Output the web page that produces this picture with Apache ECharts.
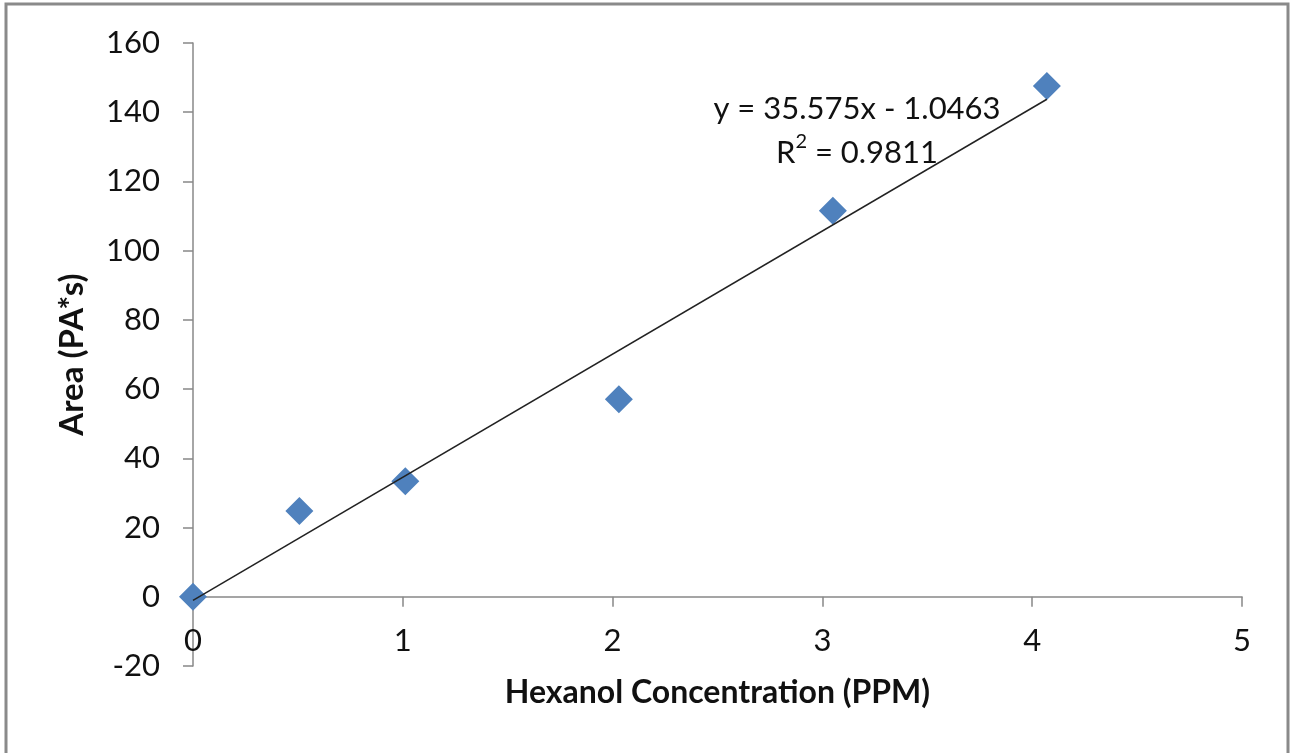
<!DOCTYPE html>
<html>
<head>
<meta charset="utf-8">
<script src="https://cdn.jsdelivr.net/npm/echarts@6/dist/echarts.min.js"></script>
<style>
  html, body { margin: 0; padding: 0; background: #fff; }
  #chart { width: 1294px; height: 753px; }
</style>
</head>
<body>
<div id="chart"></div>
<script>
// hexanol calibration points
var concentration = [0, 0.507, 1.012, 2.03, 3.05, 4.07];
var area = [0, 24.8, 33.4, 57.1, 111.5, 147.6];
var xTicks = [0, 1, 2, 3, 4, 5];
var yTicks = [-20, 0, 20, 40, 60, 80, 100, 120, 140, 160];

// linear trendline, as shown on the chart
var slope = 35.575,
    intercept = -1.0463,
    rSquared = 0.9811;

(function () {
    var chart = echarts.init(document.getElementById('chart'));
    var font = 'Lato, "Open Sans", sans-serif';
    var axisGray = '#888888';

    var points = [];
    for (var i = 0; i < concentration.length; i++) {
        points.push([concentration[i], area[i]]);
    }
    var xEnd = Math.max.apply(null, concentration);
    var trend = [
        [0, intercept],
        [xEnd, slope * xEnd + intercept]
    ];

    var option = {
        animation: false,
        backgroundColor: '#fff',
        grid: { left: 193, right: 52, top: 43, bottom: 87, containLabel: false, outerBoundsMode: 'none' },
        xAxis: {
            type: 'value',
            min: xTicks[0],
            max: xTicks[xTicks.length - 1],
            interval: 1,
            axisLine: { onZero: true, lineStyle: { color: axisGray, width: 1.5 } },
            axisTick: { show: true, length: 10, inside: false, lineStyle: { color: axisGray, width: 1.5 } },
            // labels sit just under the zero line, above the bottom of the plot area
            axisLabel: { margin: -41, fontSize: 31, color: '#111', fontFamily: font },
            splitLine: { show: false },
            name: 'Hexanol Concentration (PPM)',
            nameLocation: 'middle',
            nameGap: 11,
            nameMoveOverlap: false,
            nameTextStyle: { fontSize: 32, fontWeight: 'bold', color: '#111', fontFamily: font }
        },
        yAxis: {
            type: 'value',
            min: yTicks[0],
            max: yTicks[yTicks.length - 1],
            interval: 20,
            axisLine: { show: true, onZero: false, lineStyle: { color: axisGray, width: 1.5 } },
            axisTick: { show: true, length: 10, lineStyle: { color: axisGray, width: 1.5 } },
            axisLabel: { margin: 33, fontSize: 31, color: '#111', fontFamily: font },
            splitLine: { show: false },
            name: 'Area (PA*s)',
            nameLocation: 'middle',
            nameGap: 104,
            nameRotate: 90,
            nameTextStyle: { fontSize: 33, fontWeight: 'bold', color: '#111', fontFamily: font }
        },
        series: [
            {
                type: 'scatter',
                data: points,
                symbol: 'diamond',
                symbolSize: [28, 28],
                itemStyle: { color: '#4F81BD', opacity: 1 },
                z: 2
            },
            {
                type: 'line',
                data: trend,
                symbol: 'none',
                lineStyle: { color: '#222', width: 1.5 },
                z: 3
            }
        ],
        graphic: [
            {
                type: 'rect',
                shape: { x: 6, y: 4, width: 1282, height: 760 },
                style: { fill: 'none', stroke: '#8a8a8a', lineWidth: 3 },
                silent: true
            },
            {
                type: 'text',
                x: 857, y: 109,
                style: {
                    text: 'y = ' + slope + 'x - ' + Math.abs(intercept),
                    font: '31px ' + font, fill: '#111',
                    textAlign: 'center', textVerticalAlign: 'middle'
                }
            },
            {
                type: 'text',
                x: 857, y: 150,
                style: {
                    text: '{a|R}{sup|2}{a| = ' + rSquared + '}',
                    textAlign: 'center', textVerticalAlign: 'middle',
                    rich: {
                        a: { fontSize: 31, fontFamily: font, fill: '#111', lineHeight: 36, verticalAlign: 'bottom' },
                        sup: { fontSize: 20, fontFamily: font, fill: '#111', lineHeight: 20, verticalAlign: 'top' }
                    }
                }
            }
        ]
    };
    chart.setOption(option);
})();
</script>
</body>
</html>
